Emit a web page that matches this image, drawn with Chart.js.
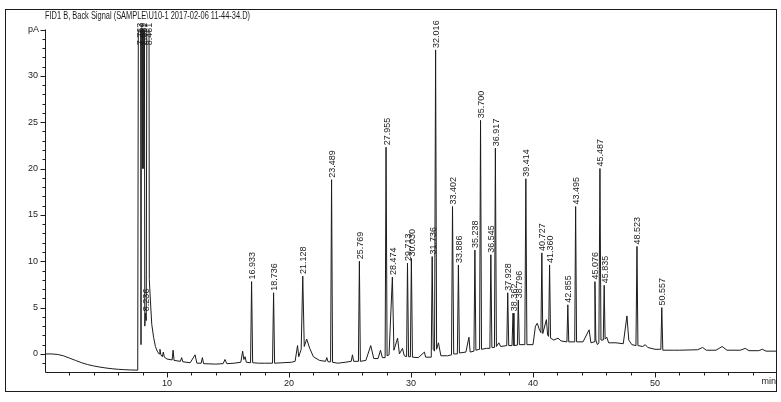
<!DOCTYPE html>
<html>
<head>
<meta charset="utf-8">
<title>FID1 B, Back Signal</title>
<script src="https://cdn.jsdelivr.net/npm/chart.js@4.4.1/dist/chart.umd.min.js"></script>
<style>
  html, body { margin: 0; padding: 0; background: #fff; }
  #chrom { position: absolute; left: 0; top: 0; }
</style>
</head>
<body>
<canvas id="chrom" width="781" height="402"></canvas>
<script>
const signalTitle = 'FID1 B, Back Signal (SAMPLE\\U10-1 2017-02-06 11-44-34.D)';

// retention time (min) / detector signal (pA)
const retTime = [
  0, 0.5, 1.0, 1.5, 2.0, 2.5, 3.0, 3.5, 4.0, 4.5, 5.0, 5.5, 6.0, 6.5, 7.0, 7.6,
  7.763, 7.87, 7.989, 8.03, 8.081, 8.18, 8.236, 8.30, 8.461, 8.55, 8.65, 8.75, 8.9, 9.05, 9.2, 9.35,
  9.42, 9.5, 9.62, 9.7, 9.78, 10.0, 10.42, 10.5, 10.58, 11.1, 11.2, 11.3, 11.9, 12.3, 12.45, 12.8,
  12.9, 13.0, 14.0, 14.6, 14.75, 14.9, 15.5, 16.05, 16.2, 16.3, 16.4, 16.5, 16.85, 16.933, 17.02, 17.5,
  18.0, 18.65, 18.736, 18.82, 19.5, 20.2, 20.5, 20.7, 20.8, 21.0, 21.128, 21.25, 21.45, 21.7, 22.0, 22.5,
  23.0, 23.1, 23.2, 23.41, 23.489, 23.57, 24.0, 24.6, 25.1, 25.2, 25.3, 25.69, 25.769, 25.85, 26.3, 26.7,
  26.95, 27.3, 27.5, 27.65, 27.88, 27.955, 28.04, 28.2, 28.474, 28.6, 28.9, 29.05, 29.3, 29.45, 29.64, 29.713,
  29.8, 29.95, 30.03, 30.12, 30.6, 31.1, 31.2, 31.66, 31.736, 31.82, 31.93, 32.016, 32.1, 32.25, 32.45, 33.0,
  33.32, 33.402, 33.5, 33.8, 33.886, 33.97, 34.5, 34.75, 34.85, 35.16, 35.238, 35.32, 35.62, 35.7, 35.78, 36.2,
  36.465, 36.545, 36.63, 36.84, 36.917, 37.0, 37.2, 37.35, 37.85, 37.928, 38.01, 38.28, 38.362, 38.44, 38.72, 38.796,
  38.88, 39.33, 39.414, 39.5, 40.0, 40.2, 40.35, 40.5, 40.65, 40.727, 40.8, 41.1, 41.2, 41.28, 41.36, 41.44,
  41.7, 42.05, 42.3, 42.78, 42.855, 42.93, 43.42, 43.495, 43.57, 44.1, 44.6, 44.75, 45.0, 45.076, 45.15, 45.28,
  45.4, 45.487, 45.57, 45.76, 45.835, 45.91, 46.05, 46.2, 46.8, 47.4, 47.7, 47.85, 48.1, 48.44, 48.523, 48.6,
  49.0, 49.2, 49.4, 50.0, 50.48, 50.557, 50.64, 51.5, 52.0, 53.5, 53.9, 54.2, 55.0, 55.5, 55.9, 57.0,
  57.4, 57.7, 58.5, 58.8, 59.1, 60.0
];
const signalPA = [
  0, 0, -0.05, -0.2, -0.45, -0.7, -0.95, -1.15, -1.3, -1.42, -1.52, -1.6, -1.66, -1.7, -1.73, -1.75,
  120, 1.0, 120, 20, 120, 3.0, 4.4, 3.6, 120, 8.0, 5.5, 3.2, 1.8, 0.8, 0.3, 0.0,
  0.5, -0.1, -0.3, 0.2, -0.35, -0.55, -0.65, 0.4, -0.7, -0.8, -0.4, -0.85, -0.95, -0.1, -1.0, -1.0,
  -0.4, -1.05, -1.1, -1.05, -0.6, -1.05, -1.0, -0.9, 0.3, -0.6, -0.3, -0.9, -0.95, 7.8, -0.95, -1.0,
  -1.0, -1.0, 6.6, -1.0, -0.95, -0.9, -0.8, 0.9, -0.3, 0.5, 8.4, 0.8, 1.6, 0.6, -0.3, -0.7,
  -0.8, -0.4, -0.85, -0.85, 18.8, -0.9, -1.0, -0.9, -0.8, -0.1, -0.8, -0.8, 10.0, -0.8, -0.7, 0.9,
  -0.5, -0.5, 0.4, -0.4, -0.4, 22.3, -0.2, -0.1, 8.3, 0.4, 1.7, 0.0, 0.6, -0.2, -0.3, 9.8,
  -0.3, -0.3, 10.3, -0.35, -0.4, 0.2, -0.35, -0.35, 10.5, 0.5, 0.3, 32.8, 0.5, 1.2, -0.2, -0.2,
  -0.1, 15.9, 0.0, 0.0, 9.6, 0.1, 0.2, 1.8, 0.2, 0.3, 11.2, 0.4, 0.5, 25.2, 0.5, 0.6,
  0.6, 10.7, 0.7, 0.7, 22.2, 0.8, 1.2, 0.8, 0.9, 6.6, 0.9, 0.9, 4.4, 0.9, 0.95, 5.8,
  1.0, 1.0, 18.9, 1.0, 1.0, 3.0, 3.3, 2.7, 2.3, 10.9, 2.2, 3.7, 2.0, 1.9, 9.6, 1.7,
  1.5, 1.7, 1.4, 1.3, 5.3, 1.3, 1.3, 15.9, 1.3, 1.3, 2.6, 1.2, 1.3, 7.8, 1.5, 1.0,
  1.2, 20.0, 1.5, 1.5, 7.4, 1.6, 1.8, 1.2, 1.2, 1.1, 4.1, 1.5, 1.0, 0.9, 11.6, 0.9,
  0.8, 1.0, 0.7, 0.5, 0.5, 5.0, 0.4, 0.4, 0.4, 0.45, 0.7, 0.4, 0.4, 0.8, 0.4, 0.4,
  0.6, 0.35, 0.35, 0.5, 0.3, 0.3
];

// integrated peaks that carry a retention-time label
const peakTimes = [
  7.763, 7.989, 8.081, 8.461, 8.236, 16.933, 18.736, 21.128, 23.489, 25.769, 27.955, 28.474,
  29.713, 30.03, 31.736, 32.016, 33.402, 33.886, 35.238, 35.7, 36.545, 36.917, 37.928, 38.362,
  38.796, 39.414, 40.727, 41.36, 42.855, 43.495, 45.076, 45.487, 45.835, 48.523, 50.557
];

const xLabelTicks = [10, 20, 30, 40, 50];
const yLabelTicks = [0, 5, 10, 15, 20, 25, 30];
const yUnitTick = 35;
const timeRange = [0, 60];
const signalRange = [-1.95, 35];

const points = retTime.map((t, i) => ({ x: t, y: signalPA[i] }));

const ink = '#1c1c1c';
const labelFont = "9px 'Liberation Sans', Arial, sans-serif";

const chromDecor = {
  id: 'chromDecor',
  afterDraw(chart) {
    const { ctx, chartArea: a } = chart;
    const xs = chart.scales.x;
    const ys = chart.scales.y;
    ctx.save();
    ctx.strokeStyle = ink;
    ctx.fillStyle = ink;
    ctx.lineWidth = 1;

    // outer frame
    ctx.strokeRect(5.5, 9.5, 771, 382);

    // title, squeezed to the printout width
    ctx.font = "10px 'Liberation Sans', Arial, sans-serif";
    ctx.textBaseline = 'middle';
    ctx.textAlign = 'left';
    const tw = ctx.measureText(signalTitle).width;
    ctx.save();
    ctx.translate(45, 16);
    ctx.scale(205 / tw, 1);
    ctx.fillText(signalTitle, 0, 0);
    ctx.restore();

    // axes
    const left = Math.round(a.left) + 0.5;
    const bottom = Math.round(a.bottom) + 0.5;
    ctx.beginPath();
    ctx.moveTo(left, a.top);
    ctx.lineTo(left, bottom);
    ctx.lineTo(a.right, bottom);
    ctx.stroke();

    // y ticks: minor every 1 pA, labelled every 5
    ctx.beginPath();
    for (let v = -1; v <= yUnitTick; v++) {
      const py = Math.round(ys.getPixelForValue(v)) + 0.5;
      const len = (v % 5 === 0) ? 5 : 3;
      ctx.moveTo(left - len, py);
      ctx.lineTo(left, py);
    }
    // x ticks: minor every 2 min
    for (let t = 2; t < timeRange[1]; t += 2) {
      const px = Math.round(xs.getPixelForValue(t)) + 0.5;
      const len = (t % 10 === 0) ? 5 : 3;
      ctx.moveTo(px, bottom);
      ctx.lineTo(px, bottom + len);
    }
    ctx.stroke();

    ctx.font = labelFont;
    ctx.textAlign = 'right';
    yLabelTicks.forEach(v => ctx.fillText(String(v), 38, ys.getPixelForValue(v)));
    ctx.fillText('pA', 39, ys.getPixelForValue(yUnitTick));

    ctx.textAlign = 'center';
    xLabelTicks.forEach(t => ctx.fillText(String(t), xs.getPixelForValue(t), 384));
    ctx.textAlign = 'right';
    ctx.fillText('min', 776, 382);

    // retention-time labels, rotated above each apex
    ctx.textAlign = 'left';
    peakTimes.forEach(t => {
      const idx = retTime.indexOf(t);
      const apex = signalPA[idx];
      const px = xs.getPixelForValue(t) + 1;
      const py = apex > signalRange[1] ? ys.getPixelForValue(33.3) : ys.getPixelForValue(apex) - 2;
      ctx.save();
      ctx.translate(px, py);
      ctx.rotate(-Math.PI / 2);
      ctx.fillText(t.toFixed(3), 0, 0);
      ctx.restore();
    });

    ctx.restore();
  }
};

new Chart(document.getElementById('chrom'), {
  type: 'line',
  data: {
    datasets: [{
      data: points,
      borderColor: ink,
      borderWidth: 1,
      pointRadius: 0,
      tension: 0,
      fill: false
    }]
  },
  options: {
    responsive: false,
    animation: false,
    devicePixelRatio: 1,
    parsing: false,
    layout: { padding: { left: 45, right: 4, top: 29.5, bottom: 30 } },
    plugins: { legend: { display: false }, tooltip: { enabled: false } },
    scales: {
      x: { type: 'linear', display: false, min: timeRange[0], max: timeRange[1] },
      y: { type: 'linear', display: false, min: signalRange[0], max: signalRange[1] }
    }
  },
  plugins: [chromDecor]
});
</script>
</body>
</html>
